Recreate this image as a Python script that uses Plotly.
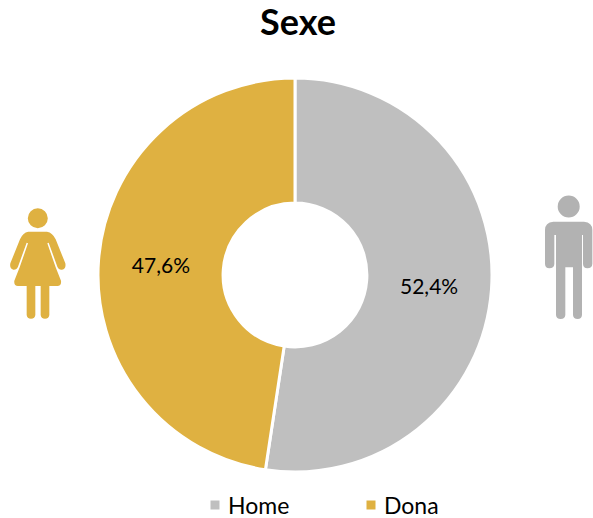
import plotly.graph_objects as go

categories = ["Home", "Dona"]
values = [52.4, 47.6]
colors = ["#BFBFBF", "#DFB141"]
title_text = "Sexe"

W, H = 593, 518
FONT = "Lato, 'Open Sans', sans-serif"


def px(x, y):
    return x / W, 1 - y / H


def icon_path(points, ox, oy, scale=1 / 3):
    parts = []
    for cmd, *nums in points:
        out = [cmd]
        for i in range(0, len(nums), 2):
            a, b = px(ox + nums[i] * scale, oy + nums[i + 1] * scale)
            out.append(f"{a:.5f},{b:.5f}")
        parts.append(" ".join(out))
    return " ".join(parts) + " Z"


woman = [
    ("M", 85, 125), ("L", 141, 125), ("Q", 158, 128, 167, 148), ("L", 196, 220),
    ("Q", 199, 236, 186, 239), ("Q", 176, 240, 172, 230), ("L", 146, 158), ("L", 142, 160),
    ("L", 167, 232), ("L", 183, 272), ("Q", 185, 288, 172, 288), ("L", 148, 288), ("L", 148, 375),
    ("Q", 147, 386, 135, 386), ("Q", 123, 386, 122, 375), ("L", 122, 288), ("L", 106, 288),
    ("L", 106, 375), ("Q", 105, 386, 93, 386), ("Q", 81, 386, 80, 375), ("L", 80, 288),
    ("L", 54, 288), ("Q", 41, 288, 43, 272), ("L", 59, 232), ("L", 84, 160), ("L", 80, 158), ("L", 54, 230),
    ("Q", 50, 240, 40, 239), ("Q", 28, 236, 31, 220), ("L", 60, 148), ("Q", 68, 128, 85, 125),
]
man = [
    ("M", 70, 125), ("L", 162, 125), ("Q", 187, 127, 187, 150), ("L", 187, 252),
    ("Q", 186, 265, 172, 265), ("Q", 160, 265, 159, 252), ("L", 159, 165), ("L", 156, 165),
    ("L", 156, 405), ("Q", 155, 417, 143, 417), ("Q", 130, 417, 129, 405), ("L", 129, 262),
    ("L", 106, 262), ("L", 106, 405), ("Q", 105, 417, 92, 417), ("Q", 79, 417, 78, 405),
    ("L", 78, 165), ("L", 73, 165), ("L", 73, 252), ("Q", 72, 265, 58, 265),
    ("Q", 46, 265, 45, 252), ("L", 45, 150), ("Q", 45, 127, 70, 125),
]


def head(cx, cy, r, color):
    x0, y0 = px(cx - r, cy - r)
    x1, y1 = px(cx + r, cy + r)
    return dict(type="circle", xref="paper", yref="paper", x0=x0, y0=y0, x1=x1, y1=y1,
                fillcolor=color, line_width=0, layer="above")


def body(points, ox, oy, color):
    return dict(type="path", xref="paper", yref="paper", path=icon_path(points, ox, oy),
                fillcolor=color, line_width=0, layer="above")


GREY_ICON = "#B2B2B2"
shapes = [
    head(37.8, 218.3, 10, colors[1]),
    body(woman, 0, 190, colors[1]),
    head(568.7, 206.5, 11, GREY_ICON),
    body(man, 530, 180, GREY_ICON),
]

fig = go.Figure(
    go.Pie(
        labels=categories,
        values=values,
        sort=False,
        direction="clockwise",
        rotation=0,
        hole=0.365,
        marker=dict(colors=colors, line=dict(color="white", width=3)),
        texttemplate="%{percent:.1%}",
        textposition="inside",
        insidetextorientation="horizontal",
        textfont=dict(family=FONT, size=21, color="black"),
        domain=dict(x=[98 / W, 492 / W], y=[1 - 472 / H, 1 - 78 / H]),
        showlegend=True,
    )
)
fig.update_layout(
    width=W,
    height=H,
    autosize=False,
    margin=dict(l=0, r=0, t=0, b=0, autoexpand=False),
    paper_bgcolor="white",
    separators=",.",
    font=dict(family=FONT, color="black"),
    title=dict(text=f"<b>{title_text}</b>", x=298 / W, xanchor="center", xref="paper",
               y=1 - 22 / H, yanchor="middle", yref="paper",
               font=dict(family=FONT, size=36, color="black")),
    legend=dict(orientation="h", x=196 / W, xanchor="left", y=1 - 505 / H, yanchor="middle",
                font=dict(family=FONT, size=23, color="black"), itemwidth=30,
                entrywidth=119, entrywidthmode="pixels", indentation=-8),
    shapes=shapes,
)
post = """
document.body.style.margin='0';
document.querySelectorAll('.legendsymbols').forEach(function(s){s.setAttribute('transform','translate(7,0)');});
"""
fig.write_html("out.html", config={"displayModeBar": False}, post_script=post)
